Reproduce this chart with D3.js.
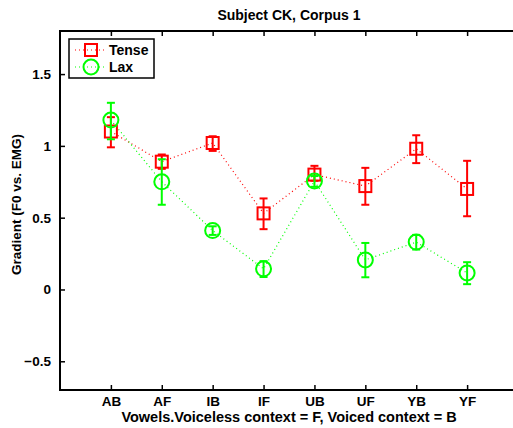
<html>
<head>
    <script src="https://d3js.org/d3.v7.min.js"></script>
    <style>
        body { margin: 0; background: #fff; }
        text { font-family: "Liberation Sans", Arial, sans-serif; font-weight: bold; }
    </style>
</head>
<body>
<svg id="chartArea" width="513" height="428"></svg>
<script>
    // data
    const categories = ["AB", "AF", "IB", "IF", "UB", "UF", "YB", "YF"];
    const tenseMean = [1.10, 0.89, 1.02, 0.53, 0.80, 0.72, 0.98, 0.70];
    const tenseLow  = [0.99, 0.84, 0.965, 0.42, 0.757, 0.59, 0.88, 0.51];
    const tenseHigh = [1.20, 0.94, 1.067, 0.634, 0.861, 0.847, 1.074, 0.896];
    const laxMean = [1.18, 0.75, 0.41, 0.144, 0.755, 0.206, 0.33, 0.115];
    const laxLow  = [1.046, 0.59, 0.38, 0.087, 0.715, 0.085, 0.278, 0.037];
    const laxHigh = [1.30, 0.907, 0.44, 0.197, 0.79, 0.324, 0.38, 0.19];
    const yTicks = [-0.5, 0, 0.5, 1, 1.5];

    const svg = d3.select("#chartArea");
    const margins = { top: 31, left: 60 };
    const chartWidth = 458;
    const chartHeight = 359;

    const xScale = d3.scaleLinear().domain([0, 9]).range([0, chartWidth]);
    const yScale = d3.scaleLinear().domain([-0.7, 1.8]).range([chartHeight, 0]);

    const chart = svg.append("g")
        .attr("transform", `translate(${margins.left},${margins.top})`);

    // box
    chart.append("rect")
        .attr("width", chartWidth).attr("height", chartHeight)
        .attr("fill", "none").attr("stroke", "#000").attr("stroke-width", 2);

    const catX = (d, i) => xScale(i + 1);
    const fmt = d => d < 0 ? "\u2212" + Math.abs(d) : String(d);

    // axes
    const bottomAxis = d3.axisBottom(xScale).tickValues(d3.range(1, 9))
        .tickFormat(d => categories[d - 1]).tickSizeInner(-5).tickSizeOuter(0).tickPadding(6);
    chart.append("g").attr("transform", `translate(0,${chartHeight})`).call(bottomAxis);
    const topAxis = d3.axisTop(xScale).tickValues(d3.range(1, 9))
        .tickFormat("").tickSizeInner(-5).tickSizeOuter(0);
    chart.append("g").call(topAxis);
    const leftAxis = d3.axisLeft(yScale).tickValues(yTicks).tickFormat(fmt)
        .tickSizeInner(-5).tickSizeOuter(0).tickPadding(9);
    chart.append("g").call(leftAxis);
    const rightAxis = d3.axisRight(yScale).tickValues(yTicks).tickFormat("")
        .tickSizeInner(-5).tickSizeOuter(0);
    chart.append("g").attr("transform", `translate(${chartWidth},0)`).call(rightAxis);

    chart.selectAll(".domain").remove();
    chart.selectAll(".tick line").attr("stroke", "#000").attr("stroke-width", 1.5);
    chart.selectAll(".tick text").attr("font-size", 13.5).attr("fill", "#000")
        .attr("font-family", "Liberation Sans, Arial, sans-serif").attr("font-weight", "bold");

    // titles
    svg.append("text").attr("x", margins.left + chartWidth / 2).attr("y", 20)
        .attr("text-anchor", "middle").attr("font-size", 14).text("Subject CK, Corpus 1");
    svg.append("text").attr("x", margins.left + chartWidth / 2).attr("y", 422)
        .attr("text-anchor", "middle").attr("font-size", 14.5)
        .text("Vowels.Voiceless context = F, Voiced context = B");
    svg.append("text")
        .attr("transform", `translate(21,${margins.top + chartHeight / 2 - 6}) rotate(-90)`)
        .attr("text-anchor", "middle").attr("font-size", 13.5).text("Gradient (F0 vs. EMG)");

    const series = [
        { name: "Tense", color: "#ff0000", mean: tenseMean, low: tenseLow, high: tenseHigh, marker: "square" },
        { name: "Lax", color: "#00ff00", mean: laxMean, low: laxLow, high: laxHigh, marker: "circle" }
    ];

    const lineGenerator = d3.line().x((d, i) => catX(d, i)).y(d => yScale(d));

    series.forEach(s => {
        const g = chart.append("g").attr("stroke", s.color).attr("fill", "none");
        g.append("path").attr("d", lineGenerator(s.mean))
            .attr("stroke-width", 1.2).attr("stroke-dasharray", "1,3");

        // error bars
        const eb = g.selectAll(".err").data(s.mean).join("g").attr("stroke-width", 2);
        eb.append("line")
            .attr("x1", catX).attr("x2", catX)
            .attr("y1", (d, i) => yScale(s.low[i])).attr("y2", (d, i) => yScale(s.high[i]));
        eb.append("line")
            .attr("x1", (d, i) => catX(d, i) - 4).attr("x2", (d, i) => catX(d, i) + 4)
            .attr("y1", (d, i) => yScale(s.low[i])).attr("y2", (d, i) => yScale(s.low[i]));
        eb.append("line")
            .attr("x1", (d, i) => catX(d, i) - 4).attr("x2", (d, i) => catX(d, i) + 4)
            .attr("y1", (d, i) => yScale(s.high[i])).attr("y2", (d, i) => yScale(s.high[i]));

        // markers
        if (s.marker === "square") {
            g.selectAll("rect").data(s.mean).join("rect")
                .attr("x", (d, i) => catX(d, i) - 6).attr("y", d => yScale(d) - 6)
                .attr("width", 12).attr("height", 12).attr("stroke-width", 2);
        } else {
            g.selectAll("circle").data(s.mean).join("circle")
                .attr("cx", catX).attr("cy", d => yScale(d))
                .attr("r", 7.5).attr("stroke-width", 2);
        }
    });

    // legend
    const legend = svg.append("g").attr("transform", "translate(69,39)");
    legend.append("rect").attr("width", 85).attr("height", 39)
        .attr("fill", "#fff").attr("stroke", "#000").attr("stroke-width", 1.5);
    series.forEach((s, i) => {
        const y = 11 + i * 17;
        const lg = legend.append("g").attr("stroke", s.color).attr("fill", "none");
        lg.append("line").attr("x1", 6).attr("x2", 38).attr("y1", y).attr("y2", y)
            .attr("stroke-width", 1.2).attr("stroke-dasharray", "1,3");
        if (s.marker === "square") {
            lg.append("rect").attr("x", 16).attr("y", y - 6).attr("width", 12).attr("height", 12).attr("stroke-width", 2);
        } else {
            lg.append("circle").attr("cx", 22).attr("cy", y).attr("r", 7.5).attr("stroke-width", 2);
        }
        legend.append("text").attr("x", 40).attr("y", y + 5).attr("font-size", 14).text(s.name);
    });
</script>
</body>
</html>
